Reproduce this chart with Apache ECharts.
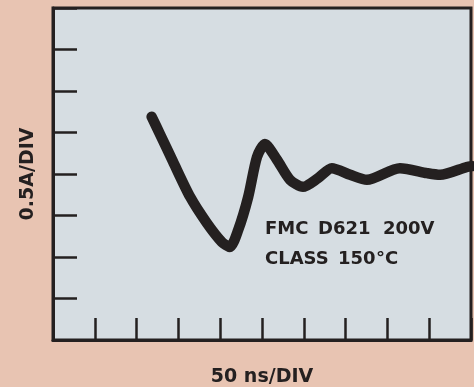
<!DOCTYPE html>
<html>
<head>
<meta charset="utf-8">
<script src="https://cdn.jsdelivr.net/npm/echarts@6/dist/echarts.min.js"></script>
<style>
html,body{margin:0;padding:0;background:#e8c4b2;}
#c{width:474px;height:387px;}
</style>
</head>
<body>
<div id="c"></div>
<script>
// Time in divisions (50 ns/DIV)
var timeDiv = [2.36, 2.56, 2.87, 3.28, 3.68, 4.04, 4.23, 4.43, 4.67, 4.88, 5.07, 5.36, 5.67, 5.98, 6.34, 6.67, 7.11, 7.51, 8.30, 8.95, 9.26, 9.90, 10.02];
// Current in divisions (0.5 A/DIV)
var currentDiv = [5.38, 4.96, 4.30, 3.45, 2.82, 2.36, 2.24, 2.65, 3.45, 4.41, 4.72, 4.34, 3.86, 3.69, 3.90, 4.14, 3.98, 3.86, 4.14, 4.02, 3.98, 4.17, 4.19];
var xAxisTitle = '50 ns/DIV';
var yAxisTitle = '0.5A/DIV';
var noteLine1 = ['FMC', 'D621', '200V'];
var noteLine2 = ['CLASS', '150', '\u00B0C'];

var pts = timeDiv.map(function(t, i){ return [t, currentDiv[i]]; });
var ink = '#242020';
var font = 'DejaVu Sans';

var line1X = [265, 318, 383];
var line2X = [265, 338, 376];
var graphics = [];
noteLine1.forEach(function(w, i){
  graphics.push({ type: 'text', left: line1X[i], top: 220,
    style: { text: w, fontFamily: font, fontSize: 18, fontWeight: 'bold', fill: ink } });
});
noteLine2.forEach(function(w, i){
  graphics.push({ type: 'text', left: line2X[i], top: 250,
    style: { text: w, fontFamily: font, fontSize: 18, fontWeight: 'bold', fill: ink } });
});

var chart = echarts.init(document.getElementById('c'));
chart.setOption({
  backgroundColor: '#e8c4b2',
  animation: false,
  grid: {
    left: 53, top: 8, right: 3, bottom: 47,
    outerBoundsMode: 'none',
    containLabel: false,
    show: true,
    backgroundColor: '#d6dde2',
    borderColor: ink,
    borderWidth: 3
  },
  xAxis: {
    type: 'value', min: 0, max: 10, interval: 1,
    name: xAxisTitle, nameLocation: 'middle', nameGap: 28,
    nameTextStyle: { fontFamily: font, fontSize: 19, fontWeight: 'bold', color: ink },
    axisLine: { show: true, onZero: false, lineStyle: { color: ink, width: 3 } },
    axisTick: { show: true, inside: true, length: 22, lineStyle: { color: ink, width: 2.5 } },
    axisLabel: { show: false },
    splitLine: { show: false }
  },
  yAxis: {
    type: 'value', min: 0, max: 8, interval: 1,
    name: yAxisTitle, nameLocation: 'middle', nameGap: 15, nameRotate: 90,
    nameTextStyle: { fontFamily: font, fontSize: 19, fontWeight: 'bold', color: ink },
    axisLine: { show: true, onZero: false, lineStyle: { color: ink, width: 3 } },
    axisTick: { show: true, inside: true, length: 24, lineStyle: { color: ink, width: 2.5 } },
    axisLabel: { show: false },
    splitLine: { show: false }
  },
  graphic: graphics,
  series: [{
    type: 'line', data: pts, smooth: 0.25, showSymbol: false, clip: true,
    lineStyle: { color: ink, width: 10.5, cap: 'round', join: 'round' }
  }]
});
</script>
</body>
</html>
